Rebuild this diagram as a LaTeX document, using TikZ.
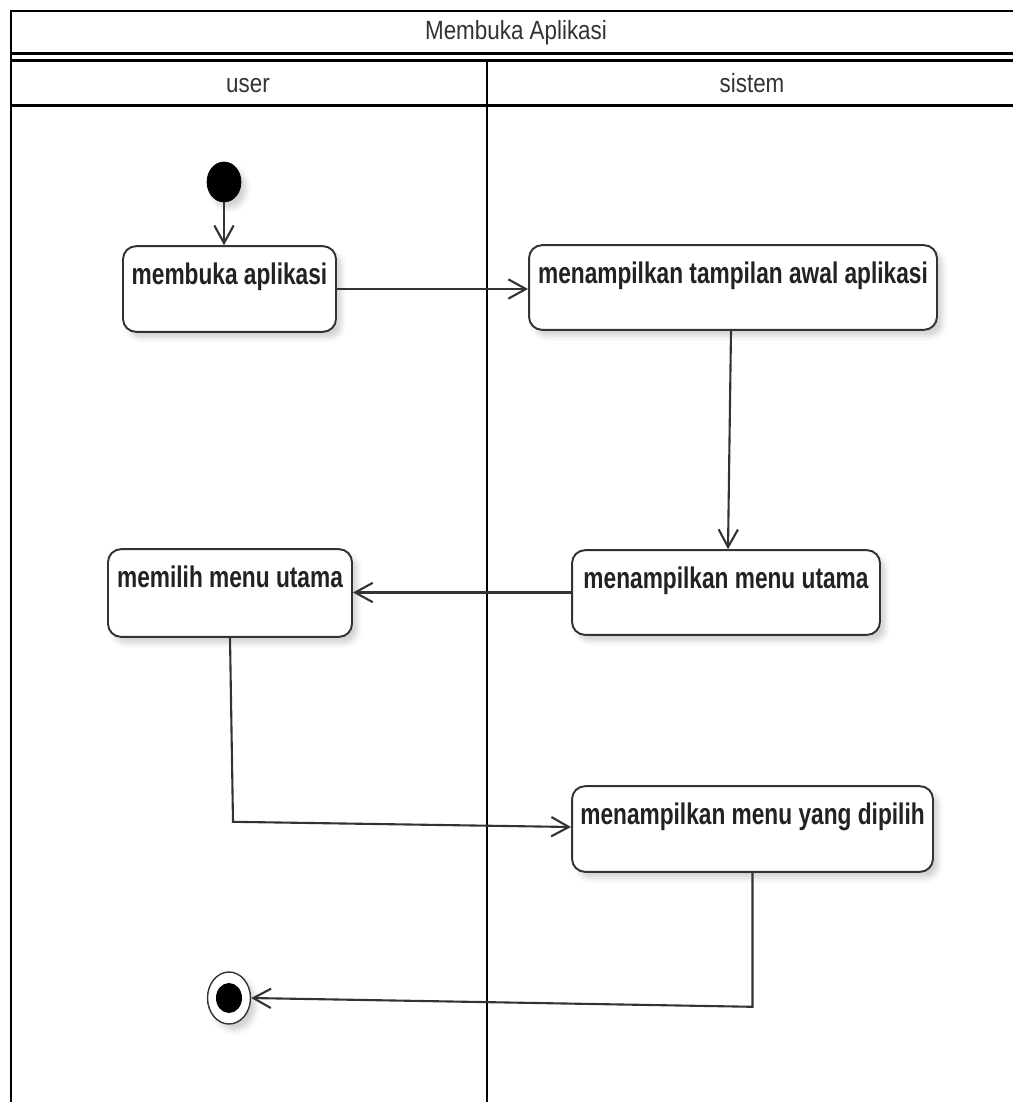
\documentclass[tikz,border=0pt]{standalone}
\usepackage{fontspec}
\usetikzlibrary{shapes.geometric,arrows.meta,calc,shadows.blur}
\newfontfamily\actfont[FakeStretch=0.76]{Liberation Sans}
\newfontfamily\lanefont[FakeStretch=0.85]{Liberation Sans}
\definecolor{edgegray}{HTML}{333333}
\definecolor{inkdark}{HTML}{222222}
\definecolor{lanetext}{HTML}{333333}

\begin{document}
\begin{tikzpicture}[x=0.02cm, y=-0.02cm,
  lane/.style={line width=1.7pt, black},
  softshadow/.style={blur shadow={shadow xshift=3pt, shadow yshift=-3.5pt, shadow blur radius=3pt, shadow opacity=18}},
  act/.style={draw=edgegray, line width=1.1pt, rounded corners=0.26cm, fill=white,
    inner sep=0pt, text height=22pt, align=center,
    font=\actfont\bfseries\fontsize{17}{20}\selectfont, text=inkdark, softshadow},
  flow/.style={draw=edgegray, line width=1.2pt, -{Straight Barb[length=10pt, width=11pt]}},
  lanehead/.style={font=\lanefont\fontsize{15}{18}\selectfont, text=lanetext, inner sep=0pt, anchor=base},
]
\useasboundingbox (0,0) rectangle (1013,1102);

% swimlane frame
\draw[lane] (1013,11) -- (11,11) -- (11,1102);
\draw[lane] (11,53.5) -- (1013,53.5);
\draw[lane] (11,60.5) -- (1013,60.5);
\draw[lane] (11,105.5) -- (1013,105.5);
\draw[lane] (487,60.5) -- (487,1102);

\node[lanehead] (title) at (516,39) {Membuka Aplikasi};
\node[lanehead] (laneuser) at (248,92) {user};
\node[lanehead] (lanesys) at (752,92) {sistem};

% initial node
\node[ellipse, fill=black, draw=black, minimum width=0.68cm, minimum height=0.8cm,
  inner sep=0pt, softshadow] (start) at (224,182) {};

% activities
\node[act, minimum width=4.26cm, text depth=26.75pt] (open) at (229.5,289) {membuka aplikasi};
\node[act, minimum width=8.16cm, text depth=26.2pt] (show) at (733,287.5) {menampilkan tampilan awal aplikasi};
\node[act, minimum width=6.16cm, text depth=26.2pt] (menu) at (726,592.5) {menampilkan menu utama};
\node[act, minimum width=4.88cm, text depth=27.9pt] (pick) at (230,593) {memilih menu utama};
\node[act, minimum width=7.22cm, text depth=26.75pt] (chosen) at (752.5,829) {menampilkan menu yang dipilih};

% final node
\node[ellipse, draw=edgegray, line width=0.8pt, fill=white, minimum width=0.86cm,
  minimum height=1.04cm, inner sep=0pt, softshadow] (finish) at (229,998) {};
\node[ellipse, fill=black, minimum width=0.52cm, minimum height=0.6cm, inner sep=0pt] (finishdot) at (finish.center) {};

% control flow
\draw[flow] (start.south) -- (start.south |- open.north);
\draw[flow] (open.east) -- (open.east -| show.west);
\draw[flow] ($(show.south)+(-2,0)$) -- ($(menu.north)+(2,0)$);
\draw[flow] (menu.west) -- (menu.west -| pick.east);
\draw[flow] (pick.south) -- ++(3,184) -- ($(chosen.west)+(0,-2)$);
\draw[flow] (chosen.south) -- ++(0,134) -- (finish.east);
\end{tikzpicture}
\end{document}
